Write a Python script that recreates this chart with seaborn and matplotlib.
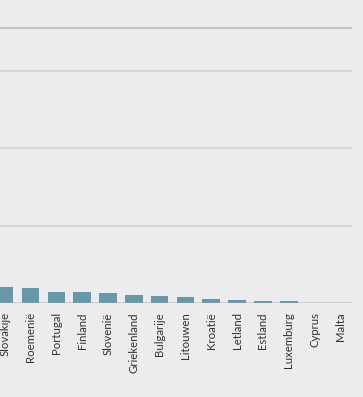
import matplotlib
matplotlib.use("Agg")
import matplotlib.pyplot as plt
import seaborn as sns
import pandas as pd

countries = ["Slovakije", "Roemenië", "Portugal", "Finland", "Slovenië", "Griekenland",
             "Bulgarije", "Litouwen", "Kroatië", "Letland", "Estland", "Luxemburg",
             "Cyprus", "Malta"]
values = [21.0, 19.0, 14.6, 14.6, 13.3, 10.3, 9.0, 7.4, 4.8, 3.9, 3.0, 3.0, 0.0, 0.0]
grid_values = [0, 100, 200, 300]

bg = "#ececee"
bar_color = "#6698a9"

sns.set_theme(style="white")
plt.rcParams["font.family"] = ["Lato", "DejaVu Sans"]

df = pd.DataFrame({"country": countries, "value": values})

fig = plt.figure(figsize=(3.63, 3.97), dpi=100, facecolor=bg)
ax = fig.add_axes([0.0, 94 / 397, 352 / 363, (303 - 27) / 397])
ax.set_facecolor(bg)

sns.barplot(data=df, x="country", y="value", color=bar_color, width=0.68,
            saturation=1, linewidth=0, edgecolor="none", ax=ax)

ymax = 357
ax.set_ylim(0, ymax)
ax.set_xlim(-0.18, len(countries) - 1 + 0.45)
ax.set_yticks(grid_values)
ax.yaxis.grid(True, color="#d2d2d4", linewidth=1.2)
ax.set_axisbelow(True)
ax.axhline(ymax * 0.998, color="#c4c4c6", linewidth=1.6, solid_capstyle="butt")
ax.axhline(0, color="#b4b4b6", linewidth=1.0, zorder=3, solid_capstyle="butt")
ax.tick_params(axis="y", left=False, labelleft=False)
ax.tick_params(axis="x", bottom=False, pad=0.6, labelsize=8.2, labelcolor="#333333")
plt.setp(ax.get_xticklabels(), rotation=90, ha="center", va="top")
for s in ax.spines.values():
    s.set_visible(False)
ax.set_xlabel("")
ax.set_ylabel("")

fig.savefig("out.png", dpi=100, facecolor=bg)
